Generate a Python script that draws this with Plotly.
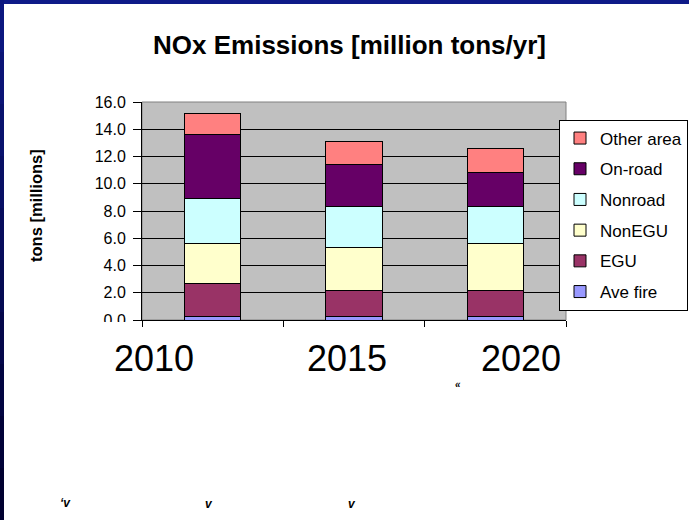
import plotly.graph_objects as go

# ---------------- data ----------------
years = ["2010", "2015", "2020"]
series_names = ["Ave fire", "EGU", "NonEGU", "Nonroad", "On-road", "Other area"]
ave_fire = [0.25, 0.25, 0.25]
egu = [2.42, 1.95, 1.93]
nonegu = [2.94, 3.14, 3.43]
nonroad = [3.29, 2.97, 2.70]
onroad = [4.70, 3.13, 2.52]
other_area = [1.57, 1.69, 1.74]
series_values = [ave_fire, egu, nonegu, nonroad, onroad, other_area]
series_colors = ["#9999FF", "#993366", "#FFFFCC", "#CCFFFF", "#660066", "#FF8080"]
y_ticks = [0, 2, 4, 6, 8, 10, 12, 14, 16]

title_text = "NOx Emissions [million tons/yr]"
y_title = "tons [millions]"

# ---------------- layout geometry ----------------
W_FIG, H_FIG = 689, 520
L, R, T, B = 142, 123, 102, 200
PW = W_FIG - L - R
PH = H_FIG - T - B
FONT = "Arial, Liberation Sans, sans-serif"
FRAME = 4


def px_x(x):
    return (x - L) / PW


def px_y(y):
    return (H_FIG - B - y) / PH


def px_rect(x0, y0, x1, y1, color, layer):
    return dict(type="rect", xref="paper", yref="paper",
                x0=px_x(x0), x1=px_x(x1), y0=px_y(y1), y1=px_y(y0),
                fillcolor=color, line=dict(width=0), layer=layer)


fig = go.Figure()
n = len(series_names)
for i, (name, vals, col) in enumerate(zip(series_names, series_values, series_colors)):
    fig.add_trace(go.Bar(
        x=years, y=vals, name=name, legendgroup=name, legendrank=n - i,
        marker=dict(color=col, line=dict(color="black", width=1)),
    ))

shapes = []
# white slide body around the plot area (paper itself is the dark-blue frame colour)
shapes.append(px_rect(FRAME, FRAME, W_FIG + 2, T, "white", "below"))
shapes.append(px_rect(FRAME, H_FIG - B, W_FIG + 2, H_FIG + 2, "white", "below"))
shapes.append(px_rect(FRAME, T - 1, L, H_FIG - B + 1, "white", "below"))
shapes.append(px_rect(W_FIG - R, T - 1, W_FIG + 2, H_FIG - B + 1, "white", "below"))
# darker lower part of the left frame strip (gradient)
n_seg = 10
for i in range(n_seg):
    f = (i + 1) / n_seg
    r = int(14 * (1 - f))
    g = int(26 * (1 - f))
    b = int(136 * (1 - f) + 48 * f)
    y0 = H_FIG * i / n_seg
    y1 = H_FIG * (i + 1) / n_seg + 1
    shapes.append(px_rect(-1, y0, FRAME, y1, f"rgb({r},{g},{b})", "below"))
# plot-area border (gray top/right)
shapes.append(dict(type="rect", xref="paper", yref="paper", x0=0, x1=1, y0=0, y1=1,
                   line=dict(color="#808080", width=1), layer="below"))
# clip bottom half of the "0.0" label
shapes.append(dict(type="rect", xref="paper", yref="paper",
                   x0=px_x(92), x1=px_x(137), y0=px_y(345), y1=px_y(322.5),
                   fillcolor="white", line=dict(color="white", width=1), layer="above"))

annotations = []
# year labels (large, offset text)
year_centers = [153.5, 346.5, 521]
for yr, cx in zip(years, year_centers):
    annotations.append(dict(text=yr, xref="paper", yref="paper", x=px_x(cx), y=px_y(358.5),
                            xanchor="center", yanchor="middle", showarrow=False,
                            font=dict(family=FONT, size=36, color="black")))
# y axis title
annotations.append(dict(text=f"<b>{y_title}</b>", xref="paper", yref="paper",
                        x=px_x(36), y=px_y(206), textangle=-90, showarrow=False,
                        xanchor="center", yanchor="middle",
                        font=dict(family=FONT, size=16.5, color="black")))
# stray glyphs
for txt, gx, gy, sz in [("«", 458, 384, 10), ("‘v", 65, 503, 12), ("v", 209, 504, 12), ("v", 352, 504, 12)]:
    annotations.append(dict(text=f"<b><i>{txt}</i></b>", xref="paper", yref="paper",
                            x=px_x(gx), y=px_y(gy), showarrow=False,
                            xanchor="center", yanchor="middle",
                            font=dict(family=FONT, size=sz, color="black")))

fig.update_layout(
    width=W_FIG, height=H_FIG,
    margin=dict(l=L, r=R, t=T, b=B, autoexpand=False),
    paper_bgcolor="#0E1A88", plot_bgcolor="#C0C0C0",
    barmode="stack", bargap=0.6,
    title=dict(text=f"<b>{title_text}</b>", x=349.5 / W_FIG, xref="container",
               y=1 - 45 / H_FIG, yref="container", xanchor="center", yanchor="middle",
               font=dict(family=FONT, size=26, color="black")),
    font=dict(family=FONT, color="black"),
    showlegend=True,
    legend=dict(xref="container", yref="container", x=688 / W_FIG, y=1 - 119.5 / H_FIG,
                xanchor="right", yanchor="top", traceorder="grouped",
                tracegroupgap=5.6, itemwidth=30,
                bgcolor="white", bordercolor="black", borderwidth=1,
                font=dict(family=FONT, size=17, color="black")),
    xaxis=dict(type="category", showline=True, linecolor="black", linewidth=1,
               ticks="outside", tickson="boundaries", ticklen=6, tickcolor="black",
               showticklabels=False, showgrid=False, zeroline=False),
    yaxis=dict(range=[0, 16], tickvals=y_ticks, tickformat=".1f",
               showline=True, linecolor="black", linewidth=1,
               ticks="outside", ticklen=8, tickcolor="black", ticklabelstandoff=4,
               showgrid=True, gridcolor="black", gridwidth=1, zeroline=False,
               tickfont=dict(family=FONT, size=16, color="black")),
    shapes=shapes, annotations=annotations,
)

fig.write_html("out.html")
